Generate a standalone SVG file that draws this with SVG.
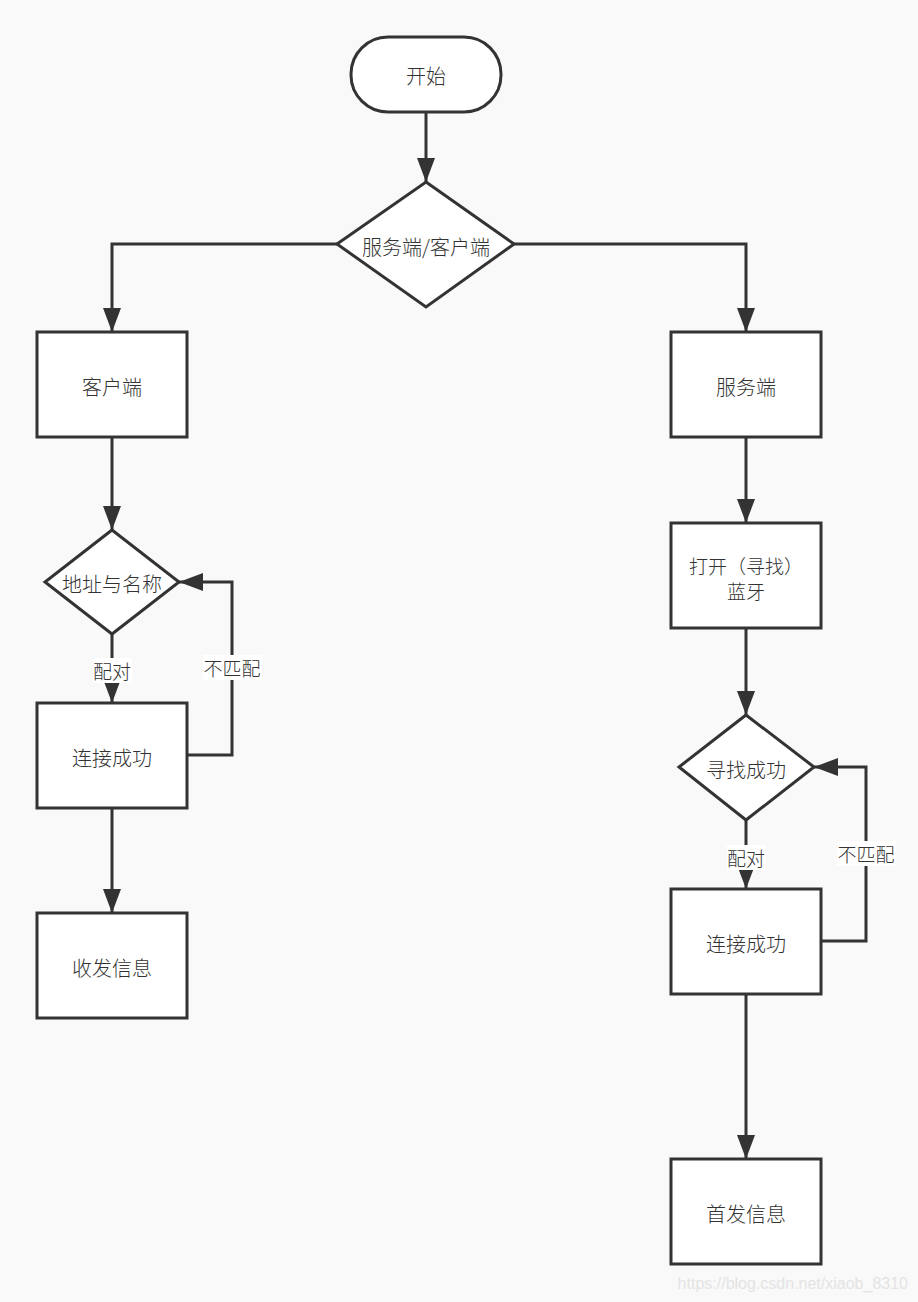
<svg xmlns="http://www.w3.org/2000/svg" width="918" height="1302" viewBox="0 0 918 1302">
<defs>
<marker id="ah" markerWidth="8" markerHeight="6" refX="8" refY="3" orient="auto" markerUnits="strokeWidth" viewBox="0 0 8 6">
<path d="M0,0 L8,3 L0,6 Z" fill="#333"/>
</marker>
<style>
.n{fill:#fff;stroke:#333;stroke-width:3}
.t{font-family:"Noto Sans CJK SC","Liberation Sans",sans-serif;font-size:20px;font-weight:300;fill:#333;text-anchor:middle;dominant-baseline:central}
.t2{font-family:"Noto Sans CJK SC","Liberation Sans",sans-serif;font-size:19px;font-weight:300;fill:#333;text-anchor:middle;dominant-baseline:central}
.c{fill:none;stroke:#333;stroke-width:3;marker-end:url(#ah)}
.lb{fill:#fff}
.l{font-family:"Noto Sans CJK SC","Liberation Sans",sans-serif;font-size:19px;font-weight:300;fill:#333;text-anchor:middle;dominant-baseline:central}
</style>
</defs>
<rect width="918" height="1302" fill="#f9f9f9"/>
<g id="connectors">
<path class="c" d="M426,112 V182"/>
<path class="c" d="M337,244 H112 V332"/>
<path class="c" d="M514,244 H746 V332"/>
<path class="c" d="M112,437 V530"/>
<path class="c" d="M112,634 V703"/>
<path class="c" d="M187,755 H232 V582 H179"/>
<path class="c" d="M112,808 V913"/>
<path class="c" d="M746,437 V523"/>
<path class="c" d="M746,628 V715"/>
<path class="c" d="M746,820 V889"/>
<path class="c" d="M821,941 H866 V767 H814"/>
<path class="c" d="M746,994 V1159"/>
<rect class="lb" x="93" y="658" width="39" height="25"/>
<text class="l" x="112" y="670">配对</text>
<rect class="lb" x="203" y="655" width="59" height="25"/>
<text class="l" x="232" y="667">不匹配</text>
<rect class="lb" x="727" y="845" width="39" height="25"/>
<text class="l" x="746" y="857">配对</text>
<rect class="lb" x="837" y="841" width="59" height="25"/>
<text class="l" x="866" y="853">不匹配</text>
</g>
<g id="start">
<rect class="n" x="351" y="37" width="150" height="75" rx="37" ry="37"/>
<text class="t" x="426" y="75">开始</text>
</g>
<g id="decision-role">
<polygon class="n" points="426,182 514,244 426,307 337,244"/>
<text class="t" x="426" y="246">服务端/客户端</text>
</g>
<g id="client">
<rect class="n" x="37" y="332" width="150" height="105"/>
<text class="t" x="112" y="386">客户端</text>
</g>
<g id="server">
<rect class="n" x="671" y="332" width="150" height="105"/>
<text class="t" x="746" y="386">服务端</text>
</g>
<g id="addr-decision">
<polygon class="n" points="112,530 179,582 112,634 45,582"/>
<text class="t" x="112" y="583">地址与名称</text>
</g>
<g id="client-connected">
<rect class="n" x="37" y="703" width="150" height="105"/>
<text class="t" x="112" y="757">连接成功</text>
</g>
<g id="client-msg">
<rect class="n" x="37" y="913" width="150" height="105"/>
<text class="t" x="112" y="967">收发信息</text>
</g>
<g id="open-bt">
<rect class="n" x="671" y="523" width="150" height="105"/>
<text class="t2" x="746" y="565">打开（寻找）</text>
<text class="t2" x="746" y="590">蓝牙</text>
</g>
<g id="find-decision">
<polygon class="n" points="746,715 814,767 746,820 679,767"/>
<text class="t" x="746" y="769">寻找成功</text>
</g>
<g id="server-connected">
<rect class="n" x="671" y="889" width="150" height="105"/>
<text class="t" x="746" y="943">连接成功</text>
</g>
<g id="server-msg">
<rect class="n" x="671" y="1159" width="150" height="105"/>
<text class="t" x="746" y="1213">首发信息</text>
</g>
<text x="908" y="1283" font-family="Liberation Sans,sans-serif" font-size="16" fill="#e4e4e4" text-anchor="end" dominant-baseline="central">https://blog.csdn.net/xiaob_8310</text>
</svg>
